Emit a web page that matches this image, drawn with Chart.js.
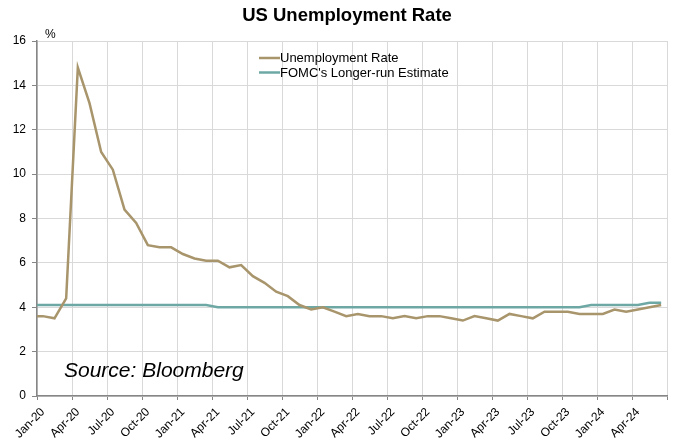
<!DOCTYPE html>
<html>
<head>
<meta charset="utf-8">
<script src="https://cdn.jsdelivr.net/npm/chart.js@4"></script>
<style>
  html, body { margin: 0; padding: 0; background: #fff; }
  #wrap { width: 675px; height: 445px; }
</style>
</head>
<body>
<div id="wrap"><canvas id="chart" width="675" height="445"></canvas></div>
<script>
// -------------------------------------------------------------------
// Data (monthly, Dec-19 .. Jun-24)
// -------------------------------------------------------------------
const months = [
  "Dec-19",
  "Jan-20","Feb-20","Mar-20","Apr-20","May-20","Jun-20","Jul-20","Aug-20","Sep-20","Oct-20","Nov-20","Dec-20",
  "Jan-21","Feb-21","Mar-21","Apr-21","May-21","Jun-21","Jul-21","Aug-21","Sep-21","Oct-21","Nov-21","Dec-21",
  "Jan-22","Feb-22","Mar-22","Apr-22","May-22","Jun-22","Jul-22","Aug-22","Sep-22","Oct-22","Nov-22","Dec-22",
  "Jan-23","Feb-23","Mar-23","Apr-23","May-23","Jun-23","Jul-23","Aug-23","Sep-23","Oct-23","Nov-23","Dec-23",
  "Jan-24","Feb-24","Mar-24","Apr-24","May-24","Jun-24"
];

const unemployment = [
  3.6,
  3.6, 3.5, 4.4, 14.8, 13.2, 11.0, 10.2, 8.4, 7.8, 6.8, 6.7, 6.7,
  6.4, 6.2, 6.1, 6.1, 5.8, 5.9, 5.4, 5.1, 4.7, 4.5, 4.1, 3.9,
  4.0, 3.8, 3.6, 3.7, 3.6, 3.6, 3.5, 3.6, 3.5, 3.6, 3.6, 3.5,
  3.4, 3.6, 3.5, 3.4, 3.7, 3.6, 3.5, 3.8, 3.8, 3.8, 3.7, 3.7,
  3.7, 3.9, 3.8, 3.9, 4.0, 4.1
];

const fomcLongRun = [
  4.1,
  4.1, 4.1, 4.1, 4.1, 4.1, 4.1, 4.1, 4.1, 4.1, 4.1, 4.1, 4.1,
  4.1, 4.1, 4.1, 4.0, 4.0, 4.0, 4.0, 4.0, 4.0, 4.0, 4.0, 4.0,
  4.0, 4.0, 4.0, 4.0, 4.0, 4.0, 4.0, 4.0, 4.0, 4.0, 4.0, 4.0,
  4.0, 4.0, 4.0, 4.0, 4.0, 4.0, 4.0, 4.0, 4.0, 4.0, 4.0, 4.1,
  4.1, 4.1, 4.1, 4.1, 4.2, 4.2
];

const yTicks = { min: 0, max: 16, step: 2 };

const seriesNames  = ["Unemployment Rate", "FOMC's Longer-run Estimate"];
const seriesColors = ["#a8956c", "#6ea8a5"];

const FONT = "'Liberation Sans', Arial, sans-serif";

// -------------------------------------------------------------------
// Helpers
// -------------------------------------------------------------------
// each month sits in the middle of its slot; slot 0 starts at Jan-20
function toPoints(values) {
  return values.map((v, i) => ({ x: i - 0.5, y: v }));
}

// -------------------------------------------------------------------
// Overlay: title, % unit, legend, source note
// -------------------------------------------------------------------
const overlay = {
  id: "overlay",
  afterDraw(chart) {
    const ctx = chart.ctx;
    const area = chart.chartArea;
    ctx.save();

    // Title
    ctx.fillStyle = "#000";
    ctx.font = "bold 18.5px " + FONT;
    ctx.textAlign = "center";
    ctx.textBaseline = "alphabetic";
    ctx.fillText("US Unemployment Rate", 347, 21);

    // Unit
    ctx.font = "12px " + FONT;
    ctx.textAlign = "left";
    ctx.fillText("%", area.left + 8, area.top - 3);

    // Legend
    ctx.font = "13px " + FONT;
    ctx.textBaseline = "middle";
    seriesNames.forEach((name, i) => {
      const y = 58 + i * 14.5;
      ctx.strokeStyle = seriesColors[i];
      ctx.lineWidth = 2.5;
      ctx.beginPath();
      ctx.moveTo(259, y);
      ctx.lineTo(280, y);
      ctx.stroke();
      ctx.fillStyle = "#000";
      ctx.fillText(name, 280, y + 0.5);
    });

    // Source
    ctx.font = "italic 21px " + FONT;
    ctx.textBaseline = "alphabetic";
    ctx.fillText("Source: Bloomberg", 64, 377);

    ctx.restore();
  }
};

// -------------------------------------------------------------------
// Chart
// -------------------------------------------------------------------
new Chart(document.getElementById("chart"), {
  type: "line",
  data: {
    datasets: [
      {
        label:       seriesNames[0],
        data:        toPoints(unemployment),
        borderColor: seriesColors[0],
        borderWidth: 2.5,
        pointRadius: 0,
        tension:     0,
        order:       1
      },
      {
        label:       seriesNames[1],
        data:        toPoints(fomcLongRun),
        borderColor: seriesColors[1],
        borderWidth: 2.5,
        pointRadius: 0,
        tension:     0,
        order:       2
      }
    ]
  },
  options: {
    responsive: false,
    animation:  false,
    layout: { padding: { top: 41, right: 8, left: 0, bottom: 0 } },
    plugins: {
      legend:  { display: false },
      title:   { display: false },
      tooltip: { enabled: false }
    },
    scales: {
      x: {
        type: "linear",
        min:  0,
        max:  months.length - 1,
        afterFit: s => {
          s.height = 49;
          s.paddingLeft = 0;
          s.paddingRight = 0;
        },
        grid: {
          color:     "#d9d9d9",
          tickColor: "#868686",
          tickLength: 4
        },
        border: { color: "#868686", width: 1.5 },
        ticks: {
          stepSize:    3,
          autoSkip:    false,
          minRotation: 45,
          maxRotation: 45,
          padding:     5,
          labelOffset: 6,
          color:       "#000",
          font:        { family: FONT, size: 12 },
          callback:    v => months[v + 1] || ""
        }
      },
      y: {
        min: yTicks.min,
        max: yTicks.max,
        afterFit: s => { s.width = 37; },
        grid: {
          color:     "#d9d9d9",
          tickColor: "#868686",
          tickLength: 5
        },
        border: { color: "#868686", width: 1.5 },
        ticks: {
          stepSize: yTicks.step,
          padding:  6,
          color:    "#000",
          font:     { family: FONT, size: 12 }
        }
      }
    }
  },
  plugins: [overlay]
});
</script>
</body>
</html>
